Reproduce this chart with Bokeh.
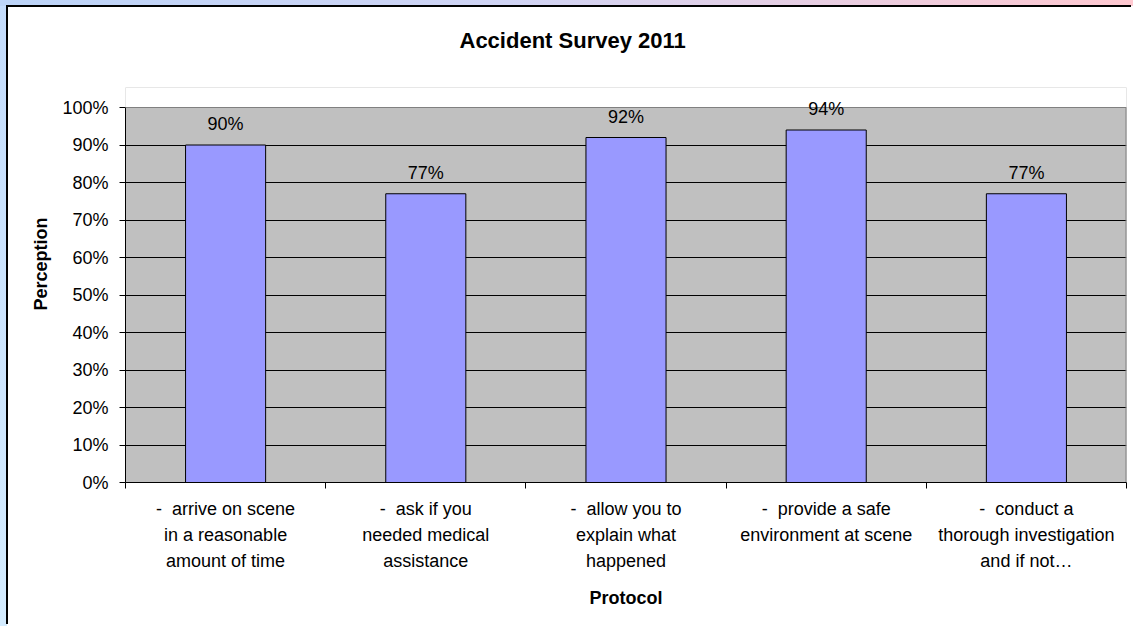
from bokeh.plotting import figure
from bokeh.models import (ColumnDataSource, FixedTicker, NumeralTickFormatter, LinearAxis,
                          LabelSet, Range1d, Column, Title, BoxAnnotation, Span)
from bokeh.core.properties import value
from bokeh.embed import file_html
from bokeh.resources import INLINE

categories = [
    "-\u00a0 arrive on scene\nin a reasonable\namount of time",
    "-\u00a0 ask if you\nneeded medical\nassistance",
    "-\u00a0 allow you to\nexplain what\nhappened",
    "-\u00a0 provide a safe\nenvironment at scene",
    "-\u00a0 conduct a\nthorough investigation\nand if not\u2026",
]
values = [0.90, 0.77, 0.92, 0.94, 0.77]
value_labels = ["90%", "77%", "92%", "94%", "77%"]
y_ticks = [0.0, 0.1, 0.2, 0.3, 0.4, 0.5, 0.6, 0.7, 0.8, 0.9, 1.0]
title_text = "Accident Survey 2011"
y_title = "Perception"
x_title = "Protocol"

FONT = "Liberation Sans"
Y_MAX = 1.0
HEAD = 20 / 375  # extra headroom above 100% so the top value label is not clipped

xs = [i + 0.5 for i in range(len(categories))]
src = ColumnDataSource(dict(x=xs, top=values, lab=value_labels))

p = figure(width=1125, height=619, output_backend="svg", toolbar_location=None,
           x_range=Range1d(0, len(categories)), y_range=Range1d(0, Y_MAX + HEAD),
           min_border_left=117, min_border_right=7, min_border_top=80, min_border_bottom=144,
           background_fill_color="#C0C0C0", border_fill_color="white",
           outline_line_color=None)
p.styles = {"border-left": "2px solid black", "border-top": "2px solid black"}
p.margin = (5, 0, 0, 6)

# white cover for the headroom above 100%
p.add_layout(BoxAnnotation(bottom=Y_MAX, fill_color="white", fill_alpha=1.0,
                           line_color=None, level="underlay"))
p.add_layout(Span(location=Y_MAX, dimension="width", line_color="#808080", line_width=1))
p.segment(x0=[len(categories)], y0=[0], x1=[len(categories)], y1=[Y_MAX],
          line_color="#808080", line_width=2)

p.vbar(x="x", top="top", width=0.4, source=src, fill_color="#9999FF",
       line_color="black", line_width=1)

# y axis
yax = p.yaxis[0]
yax.bounds = (0, Y_MAX)
yax.ticker = FixedTicker(ticks=y_ticks)
yax.formatter = NumeralTickFormatter(format="0%")
yax.major_tick_out = 6
yax.major_tick_in = 0
yax.minor_tick_out = 0
yax.minor_tick_in = 0
yax.axis_line_color = "black"
yax.major_tick_line_color = "black"
yax.major_label_standoff = 11
yax.major_label_text_font = FONT
yax.major_label_text_font_size = "18px"
yax.major_label_text_color = "black"

p.ygrid[0].ticker = FixedTicker(ticks=y_ticks[1:-1])
p.ygrid[0].grid_line_color = "black"
p.ygrid[0].grid_line_width = 1
p.xgrid[0].grid_line_color = None

# x axis: tick marks at category boundaries
xax = p.xaxis[0]
xax.ticker = FixedTicker(ticks=list(range(len(categories) + 1)))
xax.major_label_overrides = {i: "" for i in range(len(categories) + 1)}
xax.major_label_text_font_size = "0px"
xax.major_label_standoff = 0
xax.major_tick_out = 6
xax.major_tick_in = 0
xax.minor_tick_out = 0
xax.minor_tick_in = 0
xax.axis_line_color = "black"
xax.major_tick_line_color = "black"

# x axis: category labels at centres
lax = LinearAxis(ticker=FixedTicker(ticks=xs),
                 major_label_overrides={x: c for x, c in zip(xs, categories)},
                 axis_line_color=None, major_tick_line_color=None, minor_tick_line_color=None,
                 major_tick_out=0, major_tick_in=0, minor_tick_out=0, minor_tick_in=0,
                 major_label_standoff=10, major_label_text_font=FONT,
                 major_label_text_font_size="18px", major_label_text_color="black",
                 major_label_text_line_height=1.31,
                 axis_label=x_title, axis_label_standoff=14, axis_label_text_font=FONT,
                 axis_label_text_font_size="18px", axis_label_text_font_style="bold",
                 axis_label_text_color="black")
p.add_layout(lax, "below")

labels = LabelSet(x="x", y="top", text="lab", source=src, y_offset=21,
                  text_align="center", text_baseline="middle",
                  text_font=value(FONT), text_font_size=value("18px"), text_color="black")
p.add_layout(labels)

# spacer panel between the plot frame and the title
p.add_layout(Title(text=" ", standoff=32, text_font=FONT, text_font_size="1px"), "above")
p.add_layout(Title(text=title_text, align="left", offset=334, standoff=0,
                   text_font=FONT, text_font_size="22px", text_font_style="bold",
                   text_color="black"), "above")
p.add_layout(Title(text=y_title, align="left", offset=172, standoff=18,
                   text_font=FONT, text_font_size="18px", text_font_style="bold",
                   text_color="black"), "left")

bg = ("linear-gradient(90deg, #bcd4f8 0%, #d0d4f4 45%, #ffc8d0 100%) top left / 100% 6px no-repeat, "
      "linear-gradient(180deg, #c4dcfc 0%, #d4ecff 100%) top left / 7px 100% no-repeat, white")
root = Column(children=[p], width=1133, height=626, styles={"background": bg})

open("out.html", "w").write(file_html(root, INLINE))
